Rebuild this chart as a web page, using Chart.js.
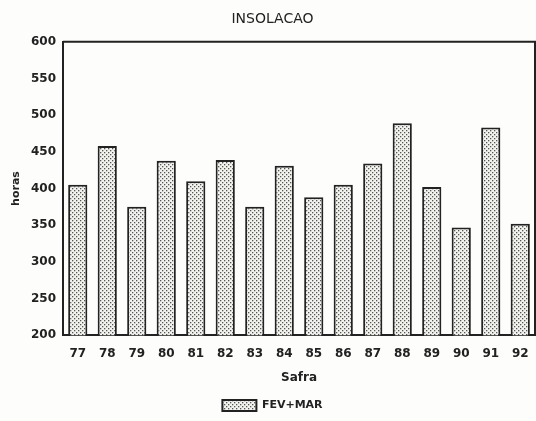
<!DOCTYPE html>
<html>
<head>
<meta charset="utf-8">
<script src="https://cdn.jsdelivr.net/npm/chart.js@4/dist/chart.umd.min.js"></script>
<style>
  body { margin: 0; background: #fdfdfb; }
  #wrap { width: 536px; height: 421px; }
</style>
</head>
<body>
<div id="wrap"><canvas id="grafico"></canvas></div>
<script>
// dados
const safras = ['77', '78', '79', '80', '81', '82', '83', '84', '85', '86', '87', '88', '89', '90', '91', '92'];
const fevMar = [405, 458, 375, 438, 410, 439, 375, 431, 388, 405, 434, 489, 402, 347, 483, 352];
const yTicks = [200, 250, 300, 350, 400, 450, 500, 550, 600];

// padrao pontilhado das barras
function padrao() {
  const c = document.createElement('canvas');
  c.width = 4; c.height = 4;
  const g = c.getContext('2d');
  g.fillStyle = '#f2f2ee';
  g.fillRect(0, 0, 4, 4);
  g.fillStyle = '#555';
  g.fillRect(0, 0, 1.3, 1.3);
  g.fillRect(2, 2, 1.3, 1.3);
  return g.createPattern(c, 'repeat');
}
const pat = padrao();

// linha de cima e da direita da area do grafico
const moldura = {
  id: 'moldura',
  afterDraw(chart) {
    const a = chart.chartArea;
    const ctx = chart.ctx;
    ctx.save();
    ctx.strokeStyle = '#222';
    ctx.lineWidth = 2;
    ctx.beginPath();
    ctx.moveTo(a.left, a.top);
    ctx.lineTo(a.right, a.top);
    ctx.lineTo(a.right, a.bottom);
    ctx.stroke();
    ctx.restore();
  }
};

const ctx = document.getElementById('grafico').getContext('2d');
new Chart(ctx, {
  type: 'bar',
  data: {
    labels: safras,
    datasets: [{
      label: 'FEV+MAR',
      data: fevMar,
      backgroundColor: pat,
      borderColor: '#222',
      borderWidth: 2,
      borderSkipped: 'bottom',
      categoryPercentage: 1,
      barPercentage: 0.65
    }]
  },
  options: {
    responsive: true,
    maintainAspectRatio: false,
    animation: false,
    layout: { padding: { top: 4, right: 1, left: 10, bottom: 0 } },
    plugins: {
      title: {
        display: true,
        text: 'INSOLACAO',
        color: '#222',
        font: { family: 'DejaVu Sans', size: 14, weight: 'normal' },
        padding: { top: 7, bottom: 14 }
      },
      legend: {
        position: 'bottom',
        labels: {
          color: '#222',
          font: { family: 'DejaVu Sans', size: 11, weight: 'bold' },
          boxWidth: 34,
          boxHeight: 11,
          padding: 6
        }
      },
      tooltip: { enabled: false }
    },
    scales: {
      x: {
        grid: { display: false, drawTicks: true, tickLength: 6, color: '#222' },
        border: { color: '#222', width: 2 },
        ticks: { color: '#222', font: { family: 'DejaVu Sans', size: 12, weight: 'bold' }, padding: 5 },
        title: {
          display: true,
          text: 'Safra',
          color: '#222',
          font: { family: 'DejaVu Sans', size: 12, weight: 'bold' },
          padding: { top: 5, bottom: 9 }
        }
      },
      y: {
        min: 200,
        max: 600,
        afterBuildTicks(axis) { axis.ticks = yTicks.map(v => ({ value: v })); },
        afterFit(axis) { axis.width = 53; },
        grid: { display: false, drawTicks: true, tickLength: 5, color: '#222' },
        border: { color: '#222', width: 2 },
        ticks: { color: '#222', font: { family: 'DejaVu Sans', size: 12, weight: 'bold' }, padding: 2 },
        title: {
          display: true,
          text: 'horas',
          color: '#222',
          font: { family: 'DejaVu Sans', size: 11, weight: 'bold' },
          padding: 0
        }
      }
    }
  },
  plugins: [moldura]
});
</script>
</body>
</html>
